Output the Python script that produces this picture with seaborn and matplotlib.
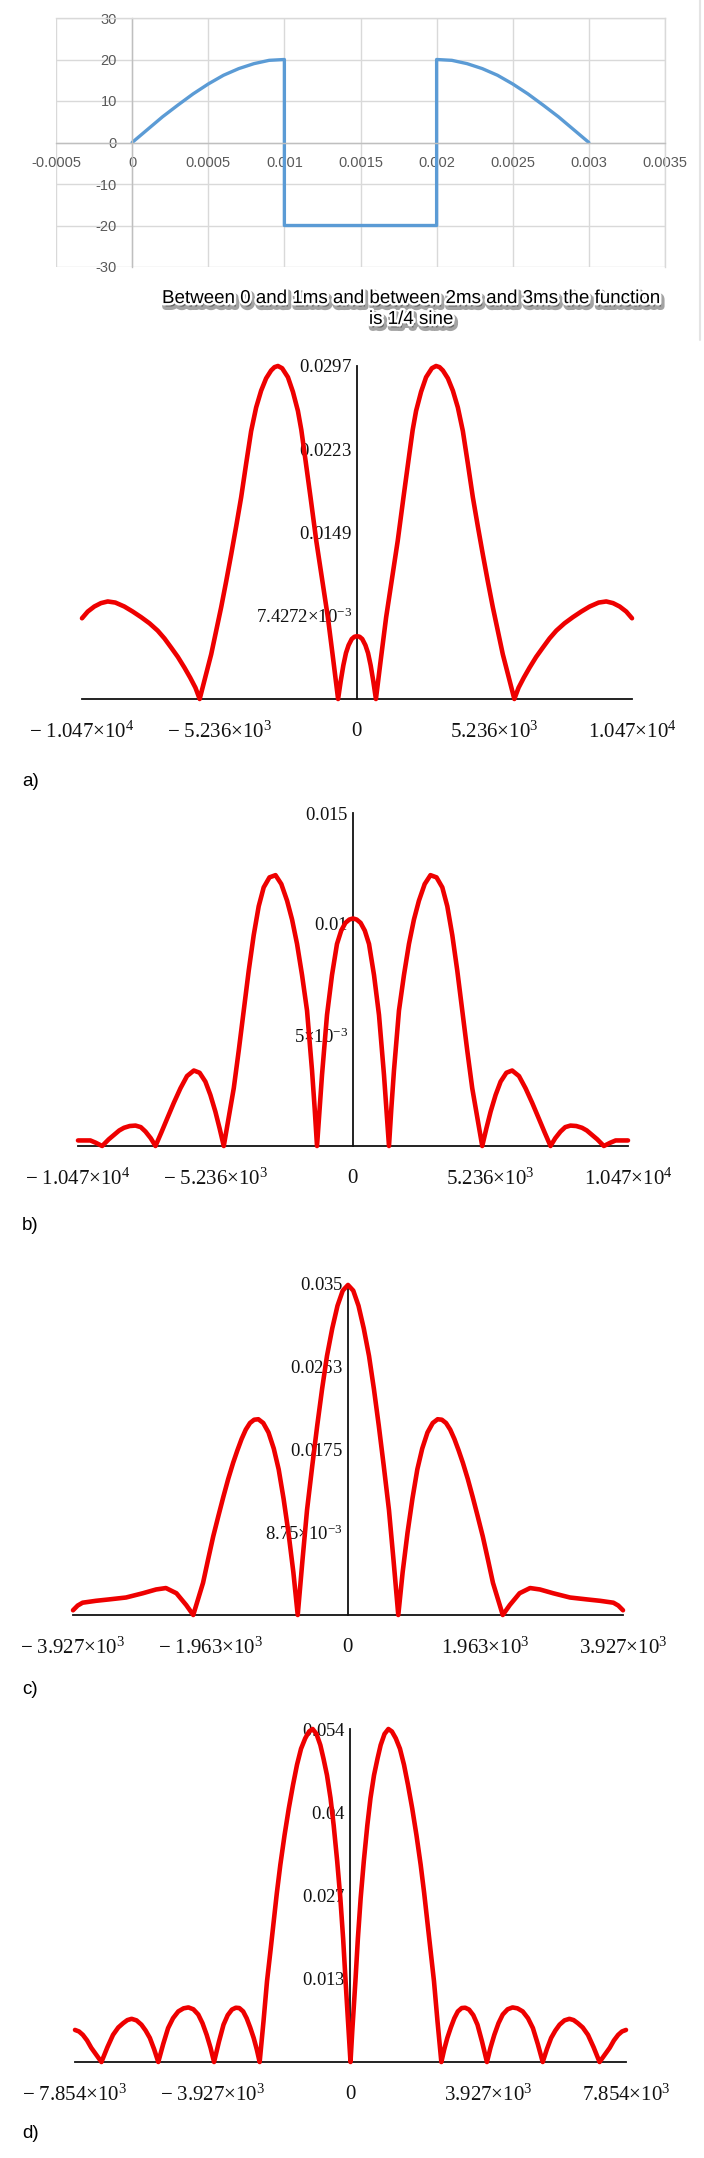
import matplotlib
matplotlib.use("Agg")
import matplotlib.pyplot as plt
import matplotlib.patheffects as pe
import seaborn as sns

sns.set_theme(style="white")
plt.rcParams["font.family"] = ["Liberation Sans", "DejaVu Sans"]
plt.rcParams["mathtext.fontset"] = "custom"
plt.rcParams["mathtext.rm"] = "Liberation Serif"
plt.rcParams["mathtext.it"] = "Liberation Serif:italic"
plt.rcParams["mathtext.bf"] = "Liberation Serif:bold"

W, H = 704, 2158
BLUE = "#5b9bd5"
RED = "#ee0000"

# ---- time-domain signal (top chart) ----
t_ms = [0, 0.0001, 0.0002, 0.0003, 0.0004, 0.0005, 0.0006, 0.0007, 0.0008, 0.0009, 0.001,
        0.001, 0.002, 0.002,
        0.0021, 0.0022, 0.0023, 0.0024, 0.0025, 0.0026, 0.0027, 0.0028, 0.0029, 0.003]
f_t = [0, 3.1, 6.2, 9.0, 11.7, 14.1, 16.2, 17.8, 19.0, 19.8, 20,
       -20, -20, 20,
       19.8, 19.0, 17.8, 16.2, 14.1, 11.7, 9.0, 6.2, 3.1, 0]
top_xticks = [-0.0005, 0, 0.0005, 0.001, 0.0015, 0.002, 0.0025, 0.003, 0.0035]
top_xlabels = ["-0.0005", "0", "0.0005", "0.001", "0.0015", "0.002", "0.0025", "0.003", "0.0035"]
top_yticks = [-30, -20, -10, 0, 10, 20, 30]
top_ylabels = ["-30", "-20", "-10", "0", "10", "20", "30"]
caption = "Between 0 and 1ms and between 2ms and 3ms the function\nis 1/4 sine"

# ---- magnitude spectra, read for w >= 0 (the plots are even in w) ----
a_w = [0, 100, 200, 320, 420, 520, 620, 720, 910, 1110, 1330, 1550, 1770, 1990, 2120, 2250,
       2440, 2630, 2850, 3010, 3140, 3270, 3460, 3650, 3840, 4030, 4220, 4410, 4600, 4790,
       4980, 5170, 5360, 5550, 5770, 5990, 6150, 6350, 6570, 6820, 7080, 7330, 7590, 7900,
       8220, 8540, 8860, 9200, 9490, 9750, 10000, 10250, 10470]
a_mag = [5.6, 5.55, 5.35, 4.8, 4.1, 3.0, 1.6, 0.0, 3.6, 7.3, 10.7, 14.1, 18.0, 21.8, 24.0, 25.7,
         27.4, 28.7, 29.5, 29.7, 29.6, 29.3, 28.6, 27.5, 26.0, 23.9, 21.0, 18.0, 15.4, 12.9,
         10.5, 8.2, 6.1, 4.0, 2.0, 0.0, 1.0, 1.9, 2.8, 3.75, 4.6, 5.4, 6.1, 6.75,
         7.3, 7.8, 8.25, 8.6, 8.7, 8.55, 8.25, 7.8, 7.2]

b_w = [0, 140, 290, 450, 610, 800, 990, 1180, 1370, 1460, 1560, 1750, 1940, 2130, 2320, 2510,
       2730, 2950, 3180, 3400, 3590, 3780, 3970, 4160, 4350, 4540, 4730, 4920, 5080, 5240,
       5430, 5620, 5840, 6060, 6320, 6570, 6820, 7070, 7300, 7520, 7700, 7900, 8080, 8280,
       8500, 8720, 8900, 9100, 9300, 9550, 9800, 10000, 10470]
b_mag = [10.25, 10.2, 10.05, 9.7, 9.1, 7.7, 5.9, 3.2, 0.0, 1.7, 3.4, 6.1, 7.7, 9.1, 10.2, 11.05,
         11.8, 12.2, 12.1, 11.65, 10.8, 9.5, 7.9, 6.1, 4.3, 2.6, 1.3, 0.0, 0.8, 1.55,
         2.3, 2.9, 3.3, 3.4, 3.15, 2.6, 1.95, 1.25, 0.6, 0.0, 0.35, 0.65, 0.85, 0.92,
         0.9, 0.82, 0.7, 0.5, 0.3, 0.0, 0.15, 0.25, 0.25]

c_w = [0, 75, 150, 225, 300, 370, 440, 510, 585, 650, 718, 780, 850, 920, 990, 1060, 1135,
       1210, 1280, 1340, 1400, 1460, 1520, 1580, 1640, 1710, 1780, 1850, 1925, 2000, 2070,
       2140, 2210, 2310, 2450, 2600, 2740, 2930, 3170, 3410, 3600, 3790, 3860, 3927]
c_mag = [34.9, 34.3, 32.7, 30.3, 27.4, 23.9, 20.0, 15.8, 11.1, 5.8, 0.0, 4.5, 8.7, 12.3, 15.4, 17.6, 19.3,
         20.3, 20.7, 20.65, 20.3, 19.6, 18.6, 17.4, 16.1, 14.4, 12.5, 10.5, 8.3, 5.8, 3.4,
         1.7, 0.0, 1.05, 2.3, 2.85, 2.7, 2.3, 1.85, 1.65, 1.5, 1.3, 1.0, 0.5]

d_w = [0, 50, 90, 140, 210, 290, 380, 480, 570, 670, 770, 860, 970, 1080, 1180, 1290, 1410,
       1525, 1640, 1760, 1880, 2000, 2100, 2190, 2280, 2380, 2480, 2590, 2670, 2760, 2860,
       2960, 3060, 3170, 3270, 3380, 3500, 3620, 3750, 3890, 3990, 4100, 4220, 4340, 4480,
       4620, 4760, 4910, 5060, 5200, 5340, 5480, 5600, 5720, 5840, 5960, 6100, 6240, 6360,
       6480, 6620, 6770, 6930, 7100, 7250, 7390, 7510, 7630, 7740, 7854]
d_mag = [0.0, 5.0, 8.5, 13.1, 20.0, 26.6, 32.6, 38.4, 42.8, 46.5, 49.2, 51.4, 53.2, 54.0, 53.6, 52.5, 50.8,
         48.2, 44.9, 41.1, 36.8, 32.0, 27.4, 22.8, 18.1, 13.1, 6.6, 0.0, 2.0, 3.9, 5.6,
         7.1, 8.2, 8.75, 8.8, 8.5, 7.6, 6.05, 3.3, 0.0, 2.3, 4.4, 6.3, 7.7, 8.55,
         8.85, 8.7, 8.2, 7.1, 5.5, 2.9, 0.0, 2.1, 3.9, 5.1, 6.05, 6.75, 7.0, 6.8,
         6.3, 5.6, 4.4, 2.4, 0.0, 1.2, 2.3, 3.5, 4.4, 4.95, 5.2]

a_xticks = [-10470, -5236, 0, 5236, 10470]
a_xlabels = [r"$-\ 1.047{\times}10^{4}$", r"$-\ 5.236{\times}10^{3}$", r"$0$",
             r"$5.236{\times}10^{3}$", r"$1.047{\times}10^{4}$"]
a_yticks = [7.4272e-3, 0.01485, 0.02228, 0.0297]
a_ylabels = [r"$7.4272{\times}10^{-3}$", r"$0.0149$", r"$0.0223$", r"$0.0297$"]

b_xticks = a_xticks
b_xlabels = a_xlabels
b_yticks = [5e-3, 0.01, 0.015]
b_ylabels = [r"$5{\times}10^{-3}$", r"$0.01$", r"$0.015$"]

c_xticks = [-3927, -1963, 0, 1963, 3927]
c_xlabels = [r"$-\ 3.927{\times}10^{3}$", r"$-\ 1.963{\times}10^{3}$", r"$0$",
             r"$1.963{\times}10^{3}$", r"$3.927{\times}10^{3}$"]
c_yticks = [8.75e-3, 0.0175, 0.02625, 0.035]
c_ylabels = [r"$8.75{\times}10^{-3}$", r"$0.0175$", r"$0.0263$", r"$0.035$"]

d_xticks = [-7854, -3927, 0, 3927, 7854]
d_xlabels = [r"$-\ 7.854{\times}10^{3}$", r"$-\ 3.927{\times}10^{3}$", r"$0$",
             r"$3.927{\times}10^{3}$", r"$7.854{\times}10^{3}$"]
d_yticks = [0.0135, 0.027, 0.0405, 0.054]
d_ylabels = [r"$0.013$", r"$0.027$", r"$0.04$", r"$0.054$"]


def px_axes(fig, left, top, right, bottom):
    return fig.add_axes([left / W, 1 - bottom / H, (right - left) / W, (bottom - top) / H])


def even(w, mag):
    # magnitude spectrum is symmetric: same readings on both sides of 0
    x = [-v for v in w[::-1]] + w[1:]
    y = mag[::-1] + mag[1:]
    return x, [v * 1e-3 for v in y]


fig = plt.figure(figsize=(W / 100, H / 100), dpi=100)

# ---- top Excel-style chart ----
ax = px_axes(fig, 56, 18, 665, 267)
sns.lineplot(x=t_ms, y=f_t, ax=ax, color=BLUE, linewidth=2.4, sort=False, estimator=None)
ax.set_xlim(-0.0005, 0.0035)
ax.set_ylim(-30, 30)
ax.set_xticks(top_xticks, top_xlabels)
ax.set_yticks(top_yticks, top_ylabels)
ax.grid(True, color="#d9d9d9", linewidth=1)
ax.spines["left"].set_position(("data", 0))
ax.spines["bottom"].set_position(("data", 0))
for s in ["left", "bottom"]:
    ax.spines[s].set_color("#bfbfbf")
    ax.spines[s].set_linewidth(1)
for s in ["top", "right"]:
    ax.spines[s].set_color("#d9d9d9")
    ax.spines[s].set_linewidth(1)
ax.tick_params(length=0, labelsize=10.5, labelcolor="#595959")
ax.tick_params(axis="x", pad=10)
ax.tick_params(axis="y", pad=11)
ax.set_xlabel("")
ax.set_ylabel("")

fig.text(411 / W, 1 - 309 / H, caption, ha="center", va="center", fontsize=13.5,
         color="black", linespacing=1.3,
         path_effects=[pe.Stroke(offset=(1.5, -2.5), linewidth=5, foreground="#666666", alpha=0.6),
                       pe.Stroke(linewidth=3.5, foreground="white"), pe.Normal()])

fig.add_artist(plt.Line2D([700 / W, 700 / W], [1, 1 - 340 / H], color="#e4e4e4",
                          linewidth=1.5, transform=fig.transFigure))

# ---- Mathcad-style spectra ----
panels = [
    ("a)", a_w, a_mag, (82, 366, 632, 699), 10470, 0.0297, a_xticks, a_xlabels, a_yticks, a_ylabels, 782),
    ("b)", b_w, b_mag, (78, 813, 628, 1146), 10470, 0.015, b_xticks, b_xlabels, b_yticks, b_ylabels, 1226),
    ("c)", c_w, c_mag, (73, 1284, 623, 1615), 3927, 0.035, c_xticks, c_xlabels, c_yticks, c_ylabels, 1690),
    ("d)", d_w, d_mag, (75, 1729, 626, 2062), 7854, 0.054, d_xticks, d_xlabels, d_yticks, d_ylabels, 2133),
]

for name, w, mag, box, xmax, ymax, xt, xl, yt, yl, label_y in panels:
    ax = px_axes(fig, *box)
    xs, ys = even(w, mag)
    sns.lineplot(x=xs, y=ys, ax=ax, color=RED, linewidth=3.3, sort=False, estimator=None)
    for line in ax.lines:
        line.set_clip_on(False)
        line.set_solid_joinstyle("round")
    ax.set_xlim(-xmax, xmax)
    ax.set_ylim(0, ymax)
    ax.set_xticks(xt, xl)
    ax.set_yticks(yt, yl)
    ax.set_xlabel("")
    ax.set_ylabel("")
    ax.grid(False)
    ax.patch.set_alpha(0)
    ax.spines["left"].set_position(("data", 0))
    ax.spines["top"].set_visible(False)
    ax.spines["right"].set_visible(False)
    for s in ["left", "bottom"]:
        ax.spines[s].set_color("#111111")
        ax.spines[s].set_linewidth(1.3)
        ax.spines[s].set_zorder(1)
    ax.tick_params(axis="x", direction="inout", length=11, width=1.3, color="#111111",
                   labelsize=15, pad=10, labelcolor="#111111")
    ax.tick_params(axis="y", direction="inout", length=7, width=1.2, color="#111111",
                   labelsize=13.5, pad=0, labelcolor="#111111")
    fig.text(22 / W, 1 - label_y / H, name, ha="left", va="center", fontsize=13.5, color="black")

fig.savefig("out.png", dpi=100, facecolor="white")
